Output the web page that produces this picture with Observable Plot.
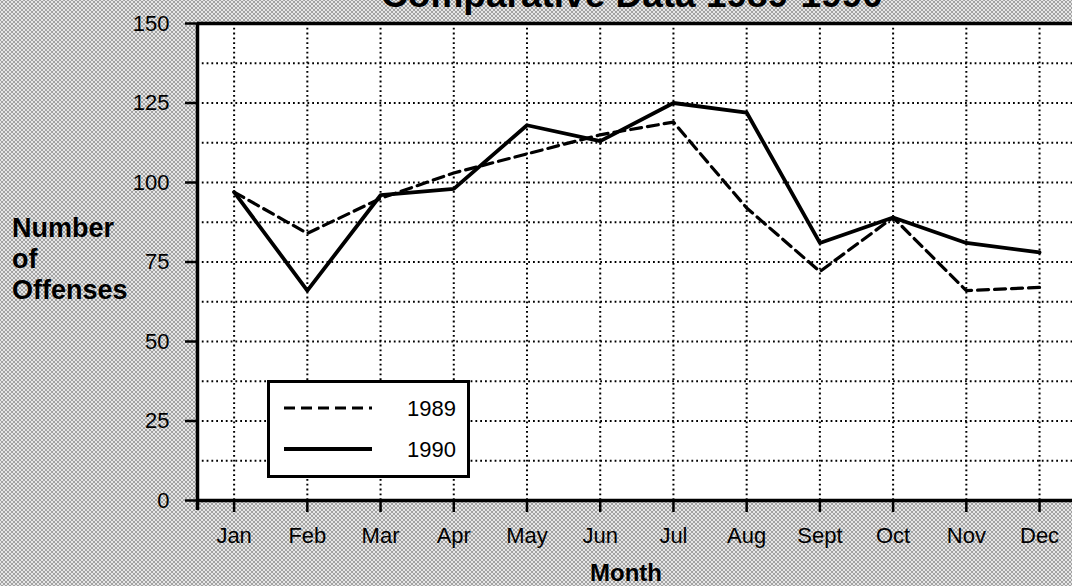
<!DOCTYPE html>
<html>
<head>
<meta charset="utf-8">
<script src="https://cdn.jsdelivr.net/npm/d3@7"></script>
<script src="https://cdn.jsdelivr.net/npm/@observablehq/plot@0.6"></script>
<style>
  html, body { margin: 0; padding: 0; width: 1072px; height: 586px; overflow: hidden; }
  body {
    background-color: #e6e6e6;
    background-image:
      radial-gradient(circle, #404040 0.5px, transparent 0.85px),
      radial-gradient(circle, #404040 0.5px, transparent 0.85px);
    background-size: 4px 4px;
    background-position: 0 0, 2px 2px;
    font-family: "Liberation Sans", Arial, Helvetica, sans-serif;
  }
  #wrap { position: relative; width: 1072px; height: 586px; }
  #chart svg { display: block; }
  .title { position: absolute; left: 0; width: 1264px; text-align: center; top: -24px;
    font-size: 37px; line-height: 37px; font-weight: bold; white-space: nowrap; }
  .ylab { position: absolute; left: 12px; top: 213px; font-size: 27px; line-height: 31px; font-weight: bold; }
  .xlab { position: absolute; left: 0; width: 1252px; text-align: center; top: 561px; font-size: 24px; line-height: 24px; font-weight: bold; }
  .legend { position: absolute; left: 267px; top: 380px; width: 197px; height: 92px; border: 3px solid #000; background: #fff; }
  .legend svg { position: absolute; left: 0; top: 0; }
</style>
</head>
<body>
<div id="wrap">
  <div id="chart"></div>
  <div class="title">Comparative Data 1989-1990</div>
  <div class="ylab">Number<br>of<br>Offenses</div>
  <div class="xlab">Month</div>
  <div class="legend" id="legend"></div>
</div>
<script>
// ---- data ----
const months = ["Jan","Feb","Mar","Apr","May","Jun","Jul","Aug","Sept","Oct","Nov","Dec"];
const offenses1989 = [97, 84, 95, 103, 109, 115, 119, 92, 72, 89, 66, 67];
const offenses1990 = [97, 66, 96, 98, 118, 113, 125, 122, 81, 89, 81, 78];
const seriesNames = ["1989", "1990"];
const yTicks = [0, 25, 50, 75, 100, 125, 150];
const yGrid = [12.5, 25, 37.5, 50, 62.5, 75, 87.5, 100, 112.5, 125, 137.5];

const monthIndex = months.map((m, i) => i + 1);
const rows1989 = months.map((m, i) => ({month: i + 1, label: m, value: offenses1989[i]}));
const rows1990 = months.map((m, i) => ({month: i + 1, label: m, value: offenses1990[i]}));

const dotted = {stroke: "#000", strokeWidth: 2, strokeDasharray: "1.8,3"};
const font = "'Liberation Sans', Arial, sans-serif";

const chart = Plot.plot({
  width: 1072,
  height: 586,
  marginLeft: 197,
  marginRight: 0,
  marginTop: 23,
  marginBottom: 86,
  x: {type: "linear", domain: [0.5, 12.45], axis: null},
  y: {domain: [0, 150], axis: null},
  style: {background: "transparent", fontFamily: font, color: "#000", fontSize: "22px"},
  marks: [
    Plot.frame({fill: "#fff", stroke: null}),
    // grid
    Plot.ruleY(yGrid, {...dotted}),
    Plot.ruleX(monthIndex, {y1: 150, y2: 0, ...dotted}),
    // frame top
    Plot.ruleY([150], {stroke: "#000", strokeWidth: 3.5}),
    // y ticks
    Plot.ruleY(yTicks, {x1: 0.5, x2: 0.5, insetLeft: -12, stroke: "#000", strokeWidth: 2.5}),
    // x ticks
    Plot.ruleX(monthIndex, {y1: 0, y2: 0, insetBottom: -12, stroke: "#000", strokeWidth: 2.5}),
    // axis lines
    Plot.ruleX([0.5], {y1: 150, y2: 0, insetBottom: -10, stroke: "#000", strokeWidth: 3.5}),
    Plot.ruleY([0], {stroke: "#000", strokeWidth: 3.5}),
    // tick labels
    Plot.text(yTicks, {x: 0.5, y: d => d, text: d => String(d), dx: -28, textAnchor: "end", fontSize: 22, fill: "#000"}),
    Plot.text(monthIndex, {x: d => d, y: 0, text: d => months[d - 1], dy: 27, lineAnchor: "top", fontSize: 22, fill: "#000"}),
    // data
    Plot.line(rows1989, {x: "month", y: "value", stroke: "#000", strokeWidth: 3.2, strokeDasharray: "11,6"}),
    Plot.line(rows1990, {x: "month", y: "value", stroke: "#000", strokeWidth: 3.8})
  ]
});
document.getElementById("chart").appendChild(chart);

// ---- legend ----
const lg = d3.select("#legend").append("svg").attr("width", 197).attr("height", 92);
const styles = [{dash: "11,6", w: 3.2}, {dash: null, w: 3.8}];
seriesNames.forEach((name, i) => {
  const y = 25 + i * 41;
  const ln = lg.append("line").attr("x1", 14).attr("x2", 102).attr("y1", y).attr("y2", y)
    .attr("stroke", "#000").attr("stroke-width", styles[i].w);
  if (styles[i].dash) ln.attr("stroke-dasharray", styles[i].dash);
  lg.append("text").attr("x", 186).attr("y", y).attr("dy", "0.36em").attr("text-anchor", "end")
    .attr("font-size", 22).attr("font-family", font).text(name);
});
</script>
</body>
</html>
